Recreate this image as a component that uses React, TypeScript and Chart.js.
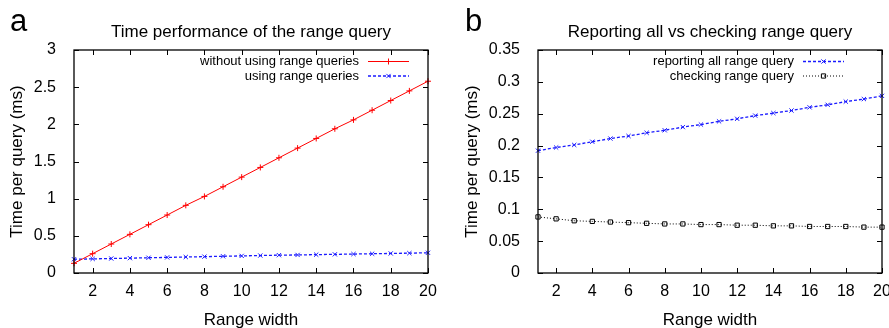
import React, { useEffect, useRef } from 'react';
import { Chart, registerables } from 'chart.js';

Chart.register(...registerables);

// ---- data ----
const rangeWidths = [1, 2, 3, 4, 5, 6, 7, 8, 9, 10, 11, 12, 13, 14, 15, 16, 17, 18, 19, 20];
const xTickValues = [2, 4, 6, 8, 10, 12, 14, 16, 18, 20];
const leftYTicks = [0, 0.5, 1, 1.5, 2, 2.5, 3];
const rightYTicks = [0, 0.05, 0.1, 0.15, 0.2, 0.25, 0.3, 0.35];

const withoutRangeQueries = [0.13, 0.26, 0.39, 0.52, 0.65, 0.78, 0.91, 1.03, 1.16, 1.29, 1.42, 1.55, 1.68, 1.81, 1.94, 2.06, 2.19, 2.32, 2.45, 2.58];
const usingRangeQueries = [0.185, 0.19, 0.195, 0.2, 0.205, 0.21, 0.215, 0.22, 0.225, 0.23, 0.235, 0.24, 0.243, 0.247, 0.251, 0.255, 0.259, 0.263, 0.267, 0.272];
const reportingAllRangeQuery = [0.192, 0.197, 0.201, 0.206, 0.211, 0.215, 0.22, 0.224, 0.229, 0.233, 0.238, 0.242, 0.247, 0.251, 0.255, 0.26, 0.264, 0.269, 0.273, 0.278];
const checkingRangeQuery = [0.088, 0.085, 0.082, 0.081, 0.08, 0.079, 0.078, 0.077, 0.077, 0.076, 0.076, 0.075, 0.075, 0.074, 0.074, 0.073, 0.073, 0.073, 0.072, 0.072];

const panelLetters = ['a', 'b'];
const panelTitles = ['Time performance of the range query', 'Reporting all vs checking range query'];
const xAxisTitle = 'Range width';
const yAxisTitle = 'Time per query (ms)';

const FONT = '"Liberation Sans", Arial, Helvetica, sans-serif';

function drawMarker(ctx: CanvasRenderingContext2D, style: string, x: number, y: number, r: number) {
  ctx.beginPath();
  if (style === 'cross') {
    ctx.moveTo(x - r, y); ctx.lineTo(x + r, y);
    ctx.moveTo(x, y - r); ctx.lineTo(x, y + r);
  } else if (style === 'crossRot') {
    const d = r * Math.SQRT1_2;
    ctx.moveTo(x - d, y - d); ctx.lineTo(x + d, y + d);
    ctx.moveTo(x - d, y + d); ctx.lineTo(x + d, y - d);
  } else if (style === 'rect') {
    const s = r * Math.SQRT1_2;
    ctx.rect(x - s, y - s, 2 * s, 2 * s);
  }
  ctx.stroke();
}

const decorPlugin = {
  id: 'decor',
  afterDatasetsDraw(chart: any, _args: any, opts: any) {
    const { ctx, chartArea: a, scales } = chart;
    ctx.save();
    // frame
    ctx.strokeStyle = '#000';
    ctx.lineWidth = 1.3;
    ctx.setLineDash([]);
    ctx.strokeRect(a.left, a.top, a.right - a.left, a.bottom - a.top);
    // inward ticks on all four sides
    const tl = 5;
    ctx.lineWidth = 1;
    ctx.beginPath();
    scales.x.ticks.forEach((t: any) => {
      const px = Math.round(scales.x.getPixelForValue(t.value)) + 0.5;
      ctx.moveTo(px, a.bottom); ctx.lineTo(px, a.bottom - tl);
      ctx.moveTo(px, a.top); ctx.lineTo(px, a.top + tl);
    });
    scales.y.ticks.forEach((t: any) => {
      const py = Math.round(scales.y.getPixelForValue(t.value)) + 0.5;
      ctx.moveTo(a.left, py); ctx.lineTo(a.left + tl, py);
      ctx.moveTo(a.right, py); ctx.lineTo(a.right - tl, py);
    });
    ctx.stroke();

    // legend (gnuplot style, top-right inside)
    const sampleRight = a.right - opts.legendRight;
    const sampleLeft = sampleRight - 41;
    chart.data.datasets.forEach((ds: any, i: number) => {
      const y = a.top + 11.5 + i * 14.5;
      ctx.font = `13px ${FONT}`;
      ctx.fillStyle = '#000';
      ctx.textAlign = 'right';
      ctx.textBaseline = 'middle';
      ctx.fillText(ds.label, sampleLeft - 9, y);
      ctx.strokeStyle = ds.borderColor;
      ctx.lineWidth = ds.borderWidth;
      ctx.setLineDash(ds.borderDash || []);
      ctx.beginPath();
      ctx.moveTo(sampleLeft, y); ctx.lineTo(sampleRight, y);
      ctx.stroke();
      ctx.setLineDash([]);
      ctx.lineWidth = 1;
      ctx.strokeStyle = ds.pointBorderColor;
      drawMarker(ctx, ds.pointStyle, (sampleLeft + sampleRight) / 2, y, ds.pointRadius);
    });

    // title and panel letter
    ctx.fillStyle = '#000';
    ctx.textBaseline = 'alphabetic';
    ctx.textAlign = 'center';
    ctx.font = `17px ${FONT}`;
    ctx.fillText(opts.title, (a.left + a.right) / 2, 37);
    ctx.textAlign = 'left';
    ctx.font = `31px ${FONT}`;
    ctx.fillText(opts.letter, opts.letterX, 31);
    ctx.restore();
  },
};

function makeConfig(
  datasets: any[],
  yMin: number,
  yMax: number,
  yTicks: number[],
  yWidth: number,
  padLeft: number,
  padRight: number,
  legendRight: number,
  title: string,
  letter: string,
  letterX: number
): any {
  return {
    type: 'line',
    data: { datasets },
    plugins: [decorPlugin],
    options: {
      animation: false,
      responsive: false,
      devicePixelRatio: 1,
      layout: { padding: { left: padLeft, right: padRight, top: 50, bottom: 0 } },
      plugins: {
        legend: { display: false },
        tooltip: { enabled: false },
        title: { display: false },
        decor: { legendRight, title, letter, letterX },
      },
      scales: {
        x: {
          type: 'linear',
          min: 1,
          max: 20,
          grid: { display: false },
          border: { display: false },
          afterBuildTicks: (scale: any) => {
            scale.ticks = xTickValues.map((v) => ({ value: v }));
          },
          afterFit: (scale: any) => {
            scale.height = 55;
            scale.paddingLeft = 0;
            scale.paddingRight = 0;
          },
          ticks: {
            padding: 1,
            maxRotation: 0,
            autoSkip: false,
            color: '#000',
            font: { family: FONT, size: 16 },
            callback: (v: any) => String(v),
          },
          title: {
            display: true,
            text: xAxisTitle,
            color: '#000',
            padding: { top: 0, bottom: -3 },
            font: { family: FONT, size: 17 },
          },
        },
        y: {
          type: 'linear',
          min: yMin,
          max: yMax,
          grid: { display: false },
          border: { display: false },
          afterBuildTicks: (scale: any) => {
            scale.ticks = yTicks.map((v) => ({ value: v }));
          },
          afterFit: (scale: any) => {
            scale.width = yWidth;
            scale.paddingTop = 0;
            scale.paddingBottom = 0;
          },
          ticks: {
            padding: 10,
            autoSkip: false,
            color: '#000',
            font: { family: FONT, size: 16 },
            callback: (v: any) => String(Math.round(Number(v) * 1000) / 1000),
          },
          title: {
            display: true,
            text: yAxisTitle,
            color: '#000',
            padding: { top: 0, bottom: 0 },
            font: { family: FONT, size: 17 },
          },
        },
      },
    },
  };
}

function series(label: string, values: number[], color: string, width: number, dash: number[], pointStyle: string, markerColor: string) {
  return {
    label,
    data: rangeWidths.map((x, i) => ({ x, y: values[i] })),
    borderColor: color,
    borderWidth: width,
    borderDash: dash,
    tension: 0,
    fill: false,
    clip: false,
    pointStyle,
    pointRadius: 3,
    pointBorderWidth: 1,
    pointBorderColor: markerColor,
    pointBackgroundColor: 'rgba(0,0,0,0)',
  };
}

function ChartCanvas({ config, width }: { config: () => any; width: number }) {
  const ref = useRef<HTMLCanvasElement | null>(null);
  useEffect(() => {
    if (!ref.current) return;
    const chart = new Chart(ref.current, config());
    return () => chart.destroy();
  }, []);
  return <canvas ref={ref} width={width} height={328} style={{ display: 'block', width, height: 328 }} />;
}

export default function App() {
  const leftConfig = () =>
    makeConfig(
      [
        series('without using range queries', withoutRangeQueries, '#ff0000', 1, [], 'cross', '#ff0000'),
        series('using range queries', usingRangeQueries, '#1a1aff', 1.3, [3, 2], 'crossRot', '#1a1aff'),
      ],
      0, 3, leftYTicks, 67, 7, 17, 19, panelTitles[0], panelLetters[0], 10
    );
  const rightConfig = () =>
    makeConfig(
      [
        series('reporting all range query', reportingAllRangeQuery, '#1a1aff', 1.3, [3, 2], 'crossRot', '#1a1aff'),
        series('checking range query', checkingRangeQuery, '#000000', 1, [1, 2], 'rect', '#000000'),
      ],
      0, 0.35, rightYTicks, 76, 17, 7, 38, panelTitles[1], panelLetters[1], 20
    );
  return (
    <div style={{ position: 'fixed', left: 0, top: 0, width: 889, height: 328, display: 'flex', background: '#fff' }}>
      <ChartCanvas config={leftConfig} width={445} />
      <ChartCanvas config={rightConfig} width={444} />
    </div>
  );
}
